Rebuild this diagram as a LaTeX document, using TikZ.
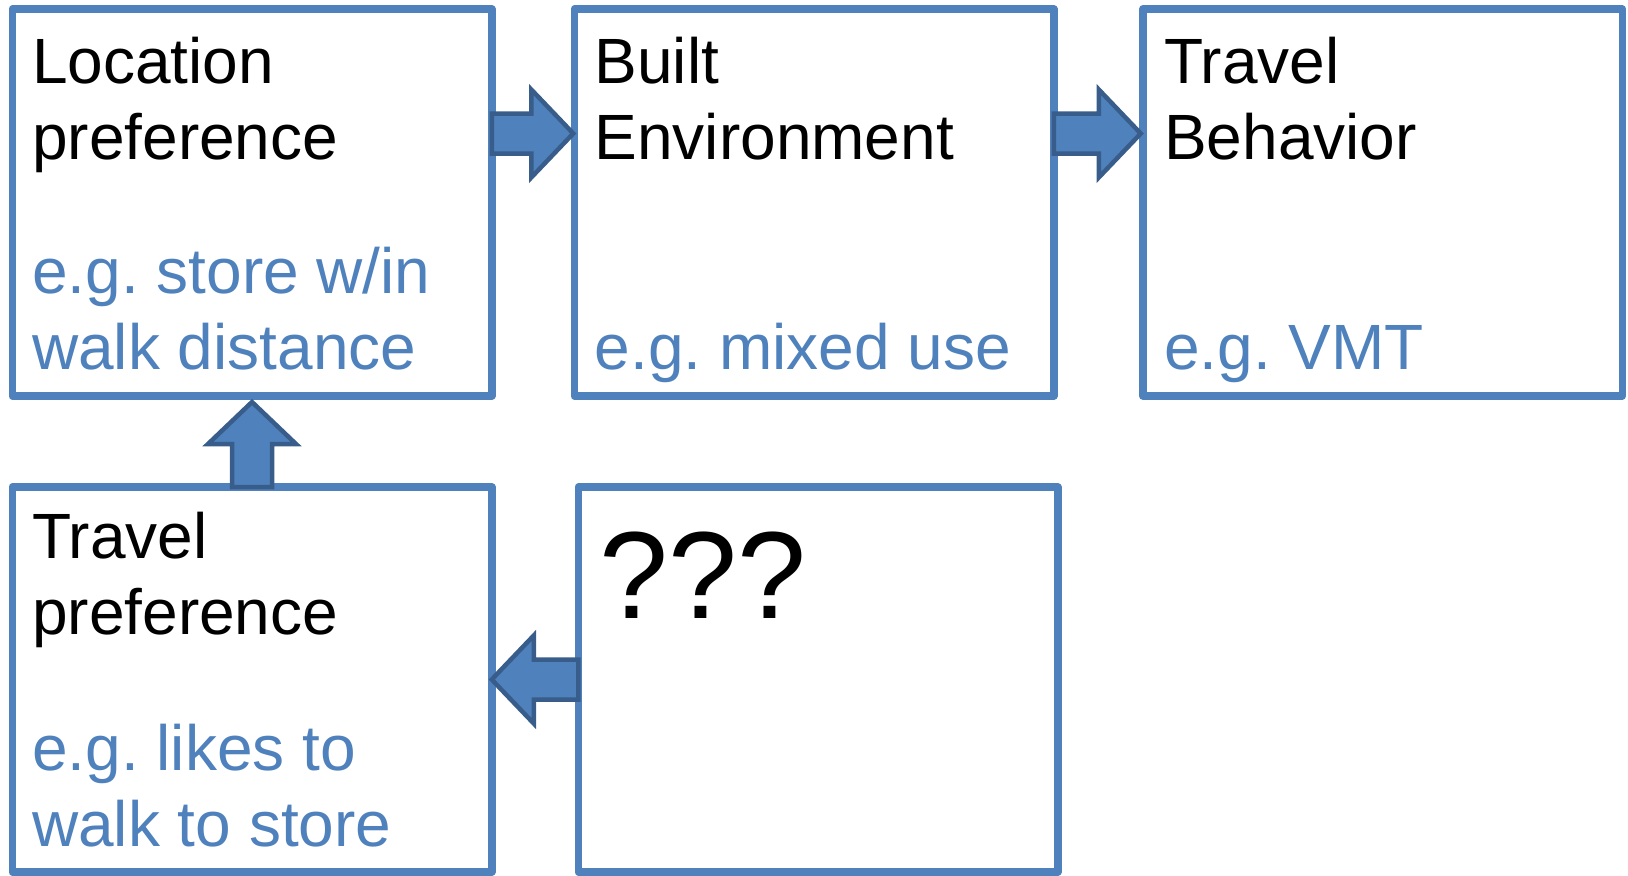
\documentclass[tikz,border=0pt]{standalone}
\usepackage{fontspec}
\setmainfont{Liberation Sans}
\frenchspacing
\usetikzlibrary{calc}
\definecolor{boxblue}{HTML}{4F81BD}
\definecolor{arrowedge}{HTML}{385D8A}
\tikzset{
  box/.style={draw=boxblue, line width=3.75pt, line join=round, inner sep=0pt, outer sep=0pt,
    minimum width=239.75pt, minimum height=193.5pt},
  title/.style={anchor=base west, inner sep=0pt, align=left, font=\fontsize{32}{38}\selectfont},
  example/.style={title, text=boxblue},
  blockarrow/.style={draw=arrowedge, fill=boxblue, line width=2.25pt, line join=miter}
}
% fat arrow from #1 to #2
\newcommand{\blockarrow}[2]{%
  \draw[blockarrow] let \p1=($(#2)-(#1)$), \n1={atan2(\y1,\x1)}, \n2={veclen(\x1,\y1)} in
    [shift={(#1)}, rotate=\n1]
    (0pt,-10pt) -- ({\n2-21pt},-10pt) -- ({\n2-21pt},-22pt) -- ({\n2},0pt)
    -- ({\n2-21pt},22pt) -- ({\n2-21pt},10pt) -- (0pt,10pt) -- cycle;}

\begin{document}
\begin{tikzpicture}[x=0.5pt, y=-0.5pt]
  \useasboundingbox (0,0) rectangle (1628,875);

  % boxes
  \node[box] (loc) at (252,202.5) {};
  \node[box] (built) at (814,202.5) {};
  \node[box] (behav) at (1382.5,202.5) {};
  \node[box, minimum height=192.5pt] (trav) at (252,679.5) {};
  \node[box, minimum height=192.5pt] (unk) at (818,679.5) {};

  % texts (base = last line)
  \node[title] (loc-title) at ($(loc.north west)+(19.5,150)$) {Location\\preference};
  \node[example] (loc-eg) at ($(loc.north west)+(19.5,360)$) {e.g. store w/in\\walk distance};
  \node[title] (built-title) at ($(built.north west)+(20,150)$) {Built\\Environment};
  \node[example] (built-eg) at ($(built.north west)+(20,360)$) {e.g. mixed use};
  \node[title] (behav-title) at ($(behav.north west)+(21,150)$) {Travel\\Behavior};
  \node[example] (behav-eg) at ($(behav.north west)+(21,360)$) {e.g. VMT};
  \node[title] (trav-title) at ($(trav.north west)+(19.5,147)$) {Travel\\preference};
  \node[example] (trav-eg) at ($(trav.north west)+(19.5,359)$) {e.g. likes to\\walk to store};
  \node[title, font=\fontsize{62}{74}\selectfont] (unk-q) at ($(unk.north west)+(21,131)$) {???};

  % arrows
  \coordinate (a1s) at ($(loc.north east)+(0,124.5)$);
  \coordinate (a1e) at ($(built.north west)+(-1,124.5)$);
  \coordinate (a2s) at ($(built.north east)+(0,124.5)$);
  \coordinate (a2e) at ($(behav.north west)+(-2,124.5)$);
  \coordinate (a3e) at ($(loc.south)+(0,6)$);
  \blockarrow{a1s}{a1e}
  \blockarrow{a2s}{a2e}
  \blockarrow{trav.north}{a3e}
  \blockarrow{unk.west}{trav.east}
\end{tikzpicture}
\end{document}
